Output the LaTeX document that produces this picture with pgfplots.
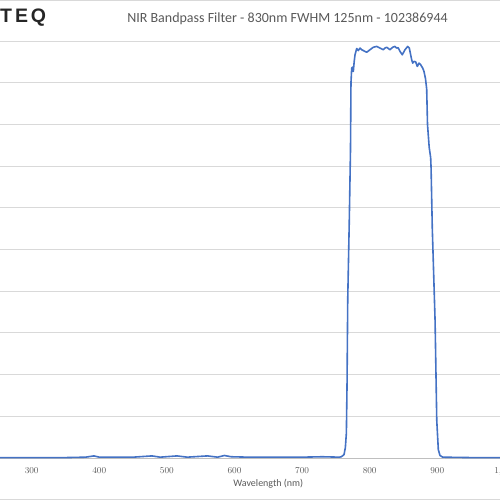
\documentclass[border=0pt]{standalone}
\usepackage{fontspec}
\setmainfont{Carlito}
\newfontfamily\logofont[LetterSpace=15]{Liberation Sans}
\usepackage{pgfplots}
\pgfplotsset{compat=1.18}
\definecolor{excelblue}{HTML}{4472C4}
\definecolor{gridgray}{HTML}{D9D9D9}
\definecolor{axisgray}{HTML}{BFBFBF}
\definecolor{textgray}{HTML}{595959}

\pgfplotstableread{
lambda T
250 0.1
280 0.1
300 0.1
350 0.1
380 0.2
392 0.5
400 0.2
450 0.2
478 0.5
490 0.2
515 0.5
530 0.2
560 0.5
575 0.2
585 0.6
595 0.3
620 0.2
650 0.2
700 0.2
730 0.3
755 0.2
758 0.3
762 0.8
764 2.5
765.5 6
766.5 18
767.5 38
769.8 57
771.6 74
772.3 90
773.4 93.5
774.3 93.7
775.8 92.7
777 95
778.3 96.7
780.8 98.2
783.1 97.7
785.7 98.3
788.2 97.9
793.1 97.5
795.6 97.3
800.4 97.9
805.3 98.5
810.4 98.7
815.2 98.3
820.1 97.9
822.5 98.3
825.2 98.5
830.0 97.9
834.0 98.5
837.4 98.7
839.9 98.3
842 98.4
844.8 97.5
848.2 96.7
852.2 97.9
856.2 98.7
858.6 98.3
860.6 96.7
862.1 95.5
863.6 94.7
865.5 95.1
868 95.0
870.4 93.9
872.9 94.7
875.4 94.3
878.4 93.5
880.3 92.7
882.5 91
884.3 88.5
885.5 80
888 74.5
890.2 72
890.8 69.5
892.6 55
896.7 33
899.2 9
901.5 2
904 0.6
908 0.2
950 0.1
1000 0.1
1100 0.1
}\filterdata

\begin{document}
\begin{tikzpicture}
\useasboundingbox (0,0) rectangle (500pt,500pt);
\clip (0,0) rectangle (500pt,500pt);
\begin{axis}[
    scale only axis,
    width=608.4pt, height=417pt,
    at={(-35.9pt,42pt)}, anchor=south west,
    xmin=200, xmax=1100, ymin=0, ymax=100,
    xtick={300,400,...,1000},
    ytick={0,10,...,100}, yticklabels={},
    axis lines*=left,
    y axis line style={draw=none},
    x axis line style={draw=axisgray, line width=0.8pt},
    tick style={draw=none},
    ymajorgrids,
    major grid style={draw=gridgray, line width=0.8pt},
    xticklabel style={font=\fontsize{9}{10}\selectfont, text=textgray, yshift=-6pt},
    xlabel={Wavelength (nm)},
    xlabel style={font=\fontsize{10}{12}\selectfont, text=textgray,
        at={(axis description cs:0.5,-0.0607)}, anchor=center},
    clip=false,
]
\addplot[excelblue, line width=1.6pt, line join=round] table[x=lambda, y=T] {\filterdata};
\end{axis}
\draw[gridgray, line width=1pt] (-5pt,499.5pt) -- (505pt,499.5pt);
\draw[gridgray, line width=1pt] (-5pt,0.5pt) -- (505pt,0.5pt);
\node[text=textgray, font=\fontsize{14}{16}\selectfont] at (287.5pt,481.5pt)
    {NIR Bandpass Filter - 830nm FWHM 125nm - 102386944};
\node[anchor=west, inner sep=0pt, text=black!85, font=\logofont\bfseries\fontsize{19.5}{22}\selectfont]
    at (0pt,482pt) {TEQ};
\end{tikzpicture}
\end{document}
